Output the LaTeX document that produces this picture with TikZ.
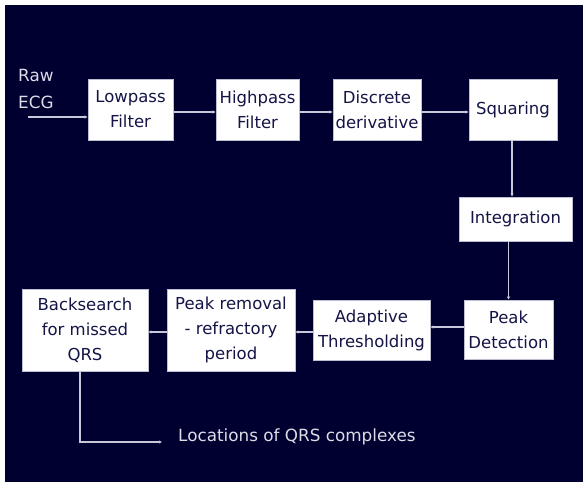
\documentclass[tikz,border=0pt]{standalone}
\usepackage{fontspec}
\setmainfont{DejaVu Sans}
\usetikzlibrary{arrows.meta}
\definecolor{bgnavy}{RGB}{0,0,48}
\definecolor{boxtext}{RGB}{20,20,70}
\definecolor{boxline}{RGB}{190,190,210}
\definecolor{conn}{RGB}{200,200,218}
\definecolor{labeltext}{RGB}{220,220,230}
\tikzset{
  blk/.style={draw=boxline, line width=0.8pt, fill=white, text=boxtext, align=center,
    inner sep=0pt, font=\fontsize{16.5}{25}\selectfont},
  conn/.style={draw=conn, line width=1.1pt, -{Latex[length=3pt,width=3.5pt]}},
  lbl/.style={text=labeltext, inner sep=0pt, font=\fontsize{16.8}{27}\selectfont}
}
\begin{document}
\begin{tikzpicture}[x=1pt,y=-1pt]
\useasboundingbox (0,0) rectangle (583,482);
\fill[white] (0,0) rectangle (583,482);
\fill[bgnavy] (5,5) rectangle (583,482);

\node[blk, minimum width=85pt, minimum height=61pt] (lp) at (130.5,109.5) {Lowpass\\Filter};
\node[blk, minimum width=83pt, minimum height=61pt] (hp) at (257.5,109.5) {Highpass\\Filter};
\node[blk, minimum width=88pt, minimum height=61pt] (dd) at (377,109.5) {Discrete\\derivative};
\node[blk, minimum width=88pt, minimum height=61pt] (sq) at (513,109.5) {Squaring};
\node[blk, minimum width=113pt, minimum height=44pt] (ig) at (515.5,219) {Integration};
\node[blk, minimum width=89pt, minimum height=59pt] (pd) at (508.5,329.5) {Peak\\Detection};
\node[blk, minimum width=117pt, minimum height=60pt] (at) at (371.5,330) {Adaptive\\Thresholding};
\node[blk, minimum width=128pt, minimum height=82pt] (pr) at (231,330) {Peak removal\\- refractory\\period};
\node[blk, minimum width=126pt, minimum height=82pt] (bs) at (85,330) {Backsearch\\for missed\\QRS};

\node[lbl, anchor=west, align=left] (raw) at (18,89) {Raw\\ECG};
\node[lbl, anchor=west] (loc) at (178,437) {Locations of QRS complexes};

\coordinate (rawstart) at (28,117);
\coordinate (locend) at (162,442);

\draw[conn] (rawstart) -- (lp.west |- rawstart);
\draw[conn] ([yshift=-2.5pt]lp.east) -- ([yshift=-2.5pt]hp.west);
\draw[conn] ([yshift=-2.5pt]hp.east) -- ([yshift=-2.5pt]dd.west);
\draw[conn] ([yshift=-2.5pt]dd.east) -- ([yshift=-2.5pt]sq.west);
\draw[conn] ([xshift=-1pt]sq.south) -- ([xshift=-1pt]sq.south |- ig.north);
\draw[conn] (ig.south -| pd.north) -- (pd.north);
\draw[conn] ([yshift=2.5pt]pd.west) -- ([yshift=2.5pt]pd.west -| at.east);
\draw[conn] ([yshift=-2pt]at.west) -- ([yshift=-2pt]at.west -| pr.east);
\draw[conn] ([yshift=-2pt]pr.west) -- ([yshift=-2pt]pr.west -| bs.east);
\draw[conn] ([xshift=-5pt]bs.south) |- (locend);
\end{tikzpicture}
\end{document}
